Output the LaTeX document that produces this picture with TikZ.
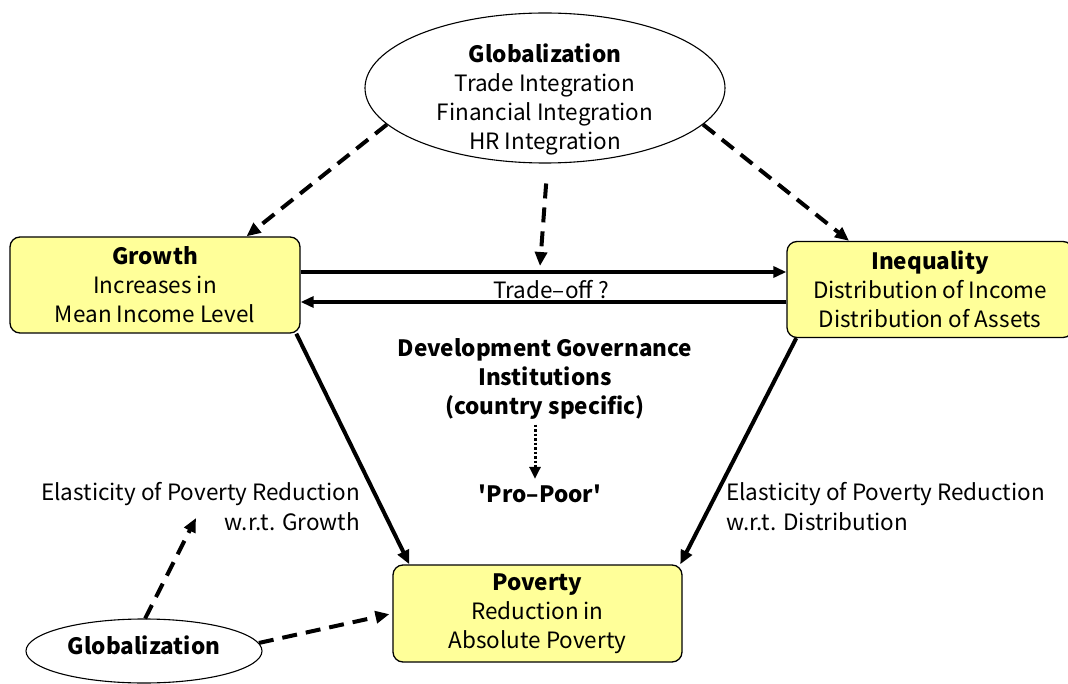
\documentclass[tikz,border=0pt]{standalone}
\usepackage{fontspec}
\setmainfont{Noto Sans CJK JP}
\usetikzlibrary{arrows.meta,shapes.geometric}
\definecolor{boxyellow}{RGB}{255,255,153}

\begin{document}
\begin{tikzpicture}[x=1pt,y=-1pt,
    every node/.style={font=\fontsize{22.5}{29}\selectfont, align=center, inner sep=0pt},
    yellowbox/.style={draw, line width=1.3pt, fill=boxyellow, rounded corners=10pt,
                      minimum width=290pt, minimum height=96pt},
    oval/.style={draw, line width=1.1pt, ellipse, inner sep=0pt},
    link/.style={line width=4pt, -{Triangle[length=14pt,width=12pt]}},
    dlink/.style={link, dash pattern=on 15pt off 9pt},
    side/.style={line width=3.2pt, -{Triangle[length=13pt,width=11pt]}}]
    \useasboundingbox (0,0) rectangle (1068,684);

    \node[oval, minimum width=360pt, minimum height=150pt] (glob) at (545,88) {};
    \node (globtext) at (545,99) {\textbf{Globalization}\\Trade Integration\\Financial Integration\\HR Integration};

    \node[yellowbox] (growth) at (155,285) {\textbf{Growth}\\Increases in\\Mean Income Level};
    \node[yellowbox, minimum width=286pt] (ineq) at (930,289.5) {\textbf{Inequality}\\Distribution of Income\\Distribution of Assets};
    \node[yellowbox, minimum width=289pt, minimum height=97pt] (pov) at (537.5,613.5) {\textbf{Poverty}\\Reduction in\\Absolute Poverty};

    \node[oval, minimum width=236pt, minimum height=64pt] (globsmall) at (144,651) {};
    \node (globsmalltext) at (144,645) {\textbf{Globalization}};

    \node (tradeoff) at (551,290) {Trade–off ?};
    \node (gov) at (545,379) {\textbf{Development Governance}\\\textbf{Institutions}\\\textbf{(country specific)}};
    \node (propoor) at (540,494) {\textbf{\textquotesingle Pro–Poor\textquotesingle}};

    \node[anchor=east] (elasg) at (360,494) {Elasticity of Poverty Reduction};
    \node[anchor=east] (elasgb) at (360,522) {w.r.t. Growth};
    \node[anchor=west] (elasd) at (726,494) {Elasticity of Poverty Reduction};
    \node[anchor=west] (elasdb) at (726,522) {w.r.t. Distribution};

    \coordinate (midtip) at (540,266);
    \coordinate (elastip) at (196,518);

    \draw[dlink] (glob.193) -- (growth.28);
    \draw[dlink] (glob.347) -- (ineq.149);
    \draw[dlink, shorten <=20pt] (glob.272) -- (midtip);

    \draw[side] ([yshift=13pt]growth.east) -- ([yshift=13pt]growth.east -| ineq.west);
    \draw[side] ([yshift=-17pt]growth.east -| ineq.west) -- ([yshift=-17pt]growth.east);

    \draw[link] (growth.-19.3) -- (pov.159.8);
    \draw[link] (ineq.200.2) -- (pov.19.8);

    \draw[line width=3pt, dash pattern=on 2.5pt off 2pt, -{Triangle[length=12pt,width=11pt]}]
        ([xshift=-10pt,yshift=-5pt]gov.south) -- ([xshift=-5pt,yshift=6pt]propoor.north);

    \draw[dlink] (globsmall.88) -- (elastip);
    \draw[dlink, shorten >=3pt] (globsmall.4) -- (pov.west);
\end{tikzpicture}
\end{document}
